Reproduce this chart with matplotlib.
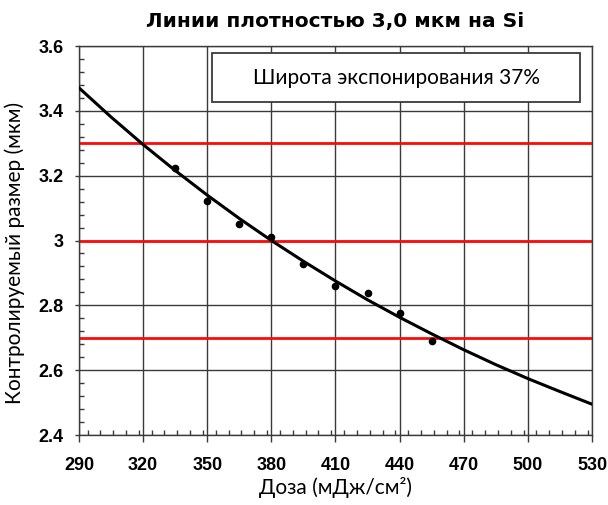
import matplotlib.pyplot as plt
from matplotlib.patches import Rectangle
from matplotlib.ticker import MultipleLocator

# measured critical dimension vs dose
dose = [335, 350, 365, 380, 395, 410, 425, 440, 455]
cd = [3.223, 3.122, 3.050, 3.012, 2.927, 2.861, 2.838, 2.777, 2.691]

# trend curve, read every 15 mJ/cm2
trend_dose = [290, 305, 320, 335, 350, 365, 380, 395, 410, 425, 440, 455, 470, 485, 500, 515, 530]
trend_cd = [3.471, 3.381, 3.296, 3.216, 3.140, 3.068, 3.000, 2.936, 2.875, 2.817, 2.763,
            2.712, 2.663, 2.617, 2.574, 2.534, 2.495]

# process window limits
limits = [3.3, 3.0, 2.7]

xticks = [290, 320, 350, 380, 410, 440, 470, 500, 530]
yticks = [2.4, 2.6, 2.8, 3.0, 3.2, 3.4, 3.6]
ytick_labels = ['2.4', '2.6', '2.8', '3', '3.2', '3.4', '3.6']

fig = plt.figure(figsize=(6.08, 5.05), dpi=100)
ax = fig.add_axes([0.1299, 0.1386, 0.8438, 0.7703])

ax.set_xlim(290, 530)
ax.set_ylim(2.4, 3.6)
ax.set_xticks(xticks)
ax.set_yticks(yticks)
ax.set_yticklabels(ytick_labels)
ax.xaxis.set_minor_locator(MultipleLocator(6))
ax.yaxis.set_minor_locator(MultipleLocator(0.04))
ax.grid(True, which='major', color='#3a3a3a', linewidth=1.0)
ax.set_axisbelow(True)

ax.tick_params(which='major', direction='out', length=5, width=1, color='#3a3a3a')
ax.tick_params(axis='x', which='major', pad=11)
ax.tick_params(axis='y', which='major', length=3, pad=8)
ax.tick_params(which='minor', direction='in', length=3.5, width=1, color='#3a3a3a')
for lab in ax.get_xticklabels() + ax.get_yticklabels():
    lab.set_family('Liberation Sans')
    lab.set_fontweight('bold')
    lab.set_fontsize(13)

for s in ax.spines.values():
    s.set_color('#3a3a3a')
    s.set_linewidth(1.0)

for v in limits:
    ax.axhline(v, color='#ff0a0a', linewidth=2.0, zorder=2)

ax.plot(trend_dose, trend_cd, color='black', linewidth=2.2, zorder=3)
ax.plot(dose, cd, 'o', color='black', markersize=4.5, zorder=4)

ax.add_patch(Rectangle((0.259, 0.857), 0.718, 0.124, transform=ax.transAxes,
                       facecolor='white', edgecolor='#3a3a3a', linewidth=1.3, zorder=5))
ax.text(0.618, 0.919, 'Широта экспонирования 37%', transform=ax.transAxes,
        ha='center', va='center', fontsize=15, family='Lato', zorder=6)

ax.set_title('Линии плотностью 3,0 мкм на Si', fontsize=14.5, fontweight='bold',
             fontstyle='normal', family='DejaVu Sans', pad=14)
ax.set_xlabel('Доза (мДж/см²)', fontsize=15, family='Lato', labelpad=2)
ax.set_ylabel('Контролируемый размер (мкм)', fontsize=15, family='Lato')
ax.yaxis.set_label_coords(-0.105, 0.468)

fig.savefig('out.png', dpi=100)
